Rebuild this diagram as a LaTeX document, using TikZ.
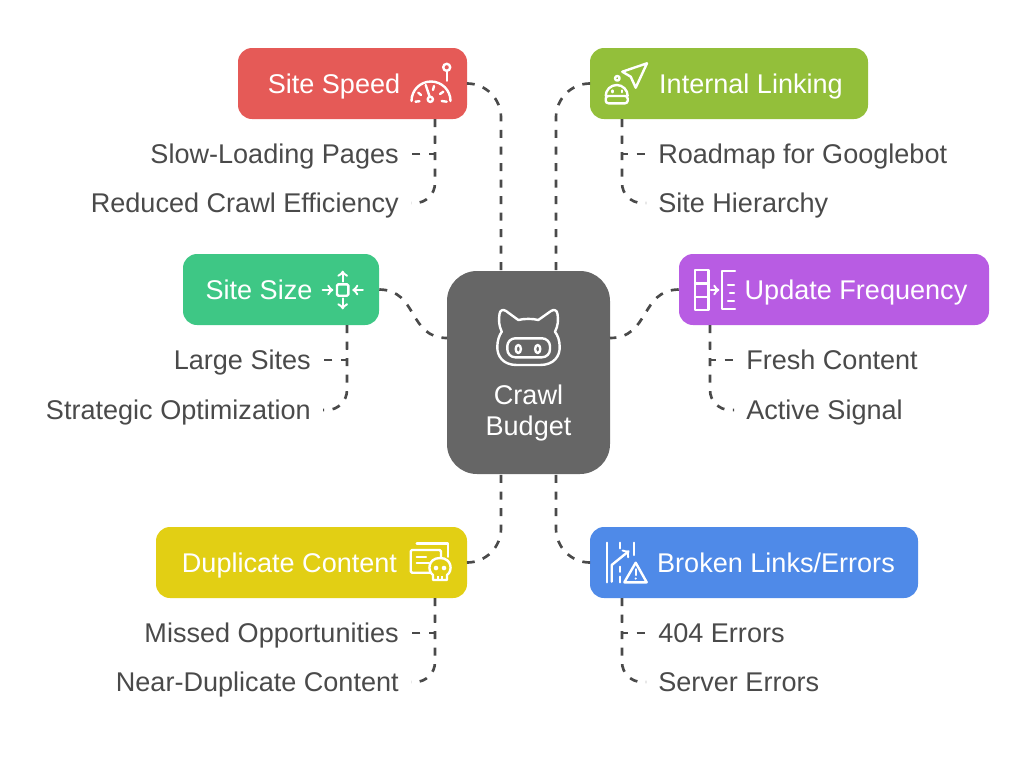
\documentclass[tikz,border=0pt]{standalone}
\usepackage{fontspec}
\setmainfont{Liberation Sans}
\usetikzlibrary{arrows,positioning}
\definecolor{inkgrey}{HTML}{4A4A4A}
\definecolor{speedred}{HTML}{E55A57}
\definecolor{linkgreen}{HTML}{93BF3A}
\definecolor{sizeteal}{HTML}{3EC785}
\definecolor{freqpurple}{HTML}{B85CE3}
\definecolor{dupyellow}{HTML}{E2CF14}
\definecolor{brokenblue}{HTML}{4F8AE8}
\definecolor{hubgrey}{HTML}{666666}
\tikzset{
	topicbox/.style={
		rounded corners=10.5pt,minimum height=53.25pt,text=white,inner sep=0pt,
		font=\fontsize{20.3}{23.25}\selectfont,text height=18.25pt,text depth=4pt},
	sublabel/.style={
		text=inkgrey,inner ysep=0pt,inner xsep=9pt,
		font=\fontsize{20.3}{23.25}\selectfont,text height=18pt,text depth=4.5pt},
	link/.style={draw=inkgrey,line width=2pt,dash pattern=on 6pt off 6.4pt},
	hubbend/.style={rounded corners=25.5pt},
	subbend/.style={rounded corners=15pt},
	icon/.style={draw=white,line width=1.8pt,line cap=round,line join=round}
}
\newcommand{\padicon}[1]{\hspace*{#1pt}}
\begin{document}
\begin{tikzpicture}[x=0.75pt,y=-0.75pt,>=to]
	\useasboundingbox (0,0) rectangle (1024,765);
	% hub
	\node[fill=hubgrey,rounded corners=22.5pt,minimum width=122.25pt,minimum height=152.25pt,
		text=white,align=center,inner sep=0pt,font=\fontsize{20.3}{23.25}\selectfont] (hub) at (528.5,372.5)
		{\rule{0pt}{76pt}Crawl\\Budget};
	% topics
	\node[topicbox,fill=speedred,minimum width=171.75pt] (speed) at (352.5,83.5) {Site Speed\padicon{27.75}};
	\node[topicbox,fill=linkgreen,minimum width=208.5pt] (linking) at (729,83.5) {\padicon{33}Internal Linking};
	\node[topicbox,fill=sizeteal,minimum width=147pt] (size) at (281,289.5) {Site Size\padicon{33}};
	\node[topicbox,fill=freqpurple,minimum width=232.5pt] (freq) at (834,289.5) {\padicon{33}Update Frequency};
	\node[topicbox,fill=dupyellow,minimum width=233.25pt] (dup) at (311.5,562.5) {Duplicate Content\padicon{33}};
	\node[topicbox,fill=brokenblue,minimum width=246pt] (broken) at (754,562.5) {\padicon{33}Broken Links/Errors};
	% sub labels
	\node[sublabel,anchor=east] (slow) at (411,154) {Slow-Loading Pages};
	\node[sublabel,anchor=east] (reduced) at (411,203) {Reduced Crawl Efficiency};
	\node[sublabel,anchor=west] (roadmap) at (646,154) {Roadmap for Googlebot};
	\node[sublabel,anchor=west] (hierarchy) at (646,203) {Site Hierarchy};
	\node[sublabel,anchor=east] (large) at (323,360) {Large Sites};
	\node[sublabel,anchor=east] (strategic) at (323,410) {Strategic Optimization};
	\node[sublabel,anchor=west] (fresh) at (734,360) {Fresh Content};
	\node[sublabel,anchor=west] (active) at (734,410) {Active Signal};
	\node[sublabel,anchor=east] (missed) at (411,633) {Missed Opportunities};
	\node[sublabel,anchor=east] (near) at (411,682) {Near-Duplicate Content};
	\node[sublabel,anchor=west] (errfour) at (646,633) {404 Errors};
	\node[sublabel,anchor=west] (errserver) at (646,682) {Server Errors};
	% ends on the hub and spines
	\coordinate (hubtl) at (501,271);
	\coordinate (hubtr) at (556,271);
	\coordinate (hubbl) at (501,474);
	\coordinate (hubbr) at (556,474);
	\coordinate (hubw) at (447,338);
	\coordinate (hube) at (610,338);
	\coordinate (speedroot) at (435,119);
	\coordinate (linkroot) at (622,119);
	\coordinate (sizeroot) at (347,325);
	\coordinate (freqroot) at (710,325);
	\coordinate (duproot) at (435,598);
	\coordinate (brokenroot) at (622,598);
	% hub links
	\draw[link,hubbend] (speed.east) -| (hubtl);
	\draw[link,hubbend] (linking.west) -| (hubtr);
	\draw[link,hubbend] (dup.east) -| (hubbl);
	\draw[link,hubbend] (broken.west) -| (hubbr);
	\draw[link] (size.east) .. controls (418,290) and (408,338) .. (hubw);
	\draw[link] (freq.west) .. controls (640,290) and (650,338) .. (hube);
	% sub links
	\foreach \spine/\first/\second in {speedroot/slow/reduced,linkroot/roadmap/hierarchy,sizeroot/large/strategic,
		freqroot/fresh/active,duproot/missed/near,brokenroot/errfour/errserver}{
		\draw[link] (\spine) |- (\first);
		\draw[link,subbend] (\spine) |- (\second);
	}
	% hub icon
	\draw[icon] (516.7,365) .. controls (503,365) and (497,356) .. (497.3,346.7)
		.. controls (497.5,340) and (499,336) .. (501.7,331.7) .. controls (499,326) and (498.5,320) .. (499.5,314)
		.. controls (500,310) and (503,309) .. (506,311) -- (518.3,320) .. controls (524,318.5) and (533,318.5) .. (538.3,320)
		-- (551,311) .. controls (554,309) and (557,310) .. (557.5,314) .. controls (558.5,320) and (558,326) .. (555,331.7)
		.. controls (558,336) and (559.5,340) .. (559.7,346.7) .. controls (560,356) and (554,365) .. (540,365) -- cycle;
	\draw[icon,rounded corners=6pt] (507.3,338.3) rectangle (550,357.3);
	\draw[icon] (518.3,349) ellipse (2.6 and 4);
	\draw[icon] (537.7,349) ellipse (2.6 and 4);
	% speed icon
	\draw[icon] (411.5,101) arc (180:360:19.5);
	\draw[icon] (425.7,85) -- (429.6,96.5);
	\draw[icon] (430.3,99.3) circle (2.6);
	\draw[icon] (446.7,71) -- (446.7,80.7);
	\draw[icon] (446.7,67.3) circle (3.5);
	\draw[icon] (415.5,101.7) -- (419.5,101.2);
	\draw[icon] (418.3,92.7) -- (421,95);
	\draw[icon] (434,86) -- (433,90);
	\draw[icon] (440,94) -- (443.3,91.7);
	\draw[icon] (441.7,101) -- (446.7,101.7);
	% linking icon
	\draw[icon] (647,63.3) -- (622.3,71.7) -- (630.7,76.7) -- (635.7,87.7) -- cycle;
	\draw[icon] (605.7,96) arc (180:360:11 and 11);
	\draw[icon,rounded corners=2pt] (605.7,96) rectangle (627.7,103.3);
	\draw[icon] (617.3,78.3) circle (2.3);
	\draw[icon] (612.3,90.5) -- (612.3,92.2);
	\draw[icon] (621.7,90.5) -- (621.7,92.2);
	% size icon
	\draw[icon,rounded corners=1pt] (337,284.3) rectangle (348.4,295.7);
	\draw[icon,->] (342.7,281.5) -- (342.7,270.7);
	\draw[icon,->] (342.7,298.5) -- (342.7,309.3);
	\draw[icon,->] (322.7,290) -- (333.3,290);
	\draw[icon,->] (362.7,290) -- (352.3,290);
	% freq icon
	\draw[icon] (695,270) rectangle (708.3,310);
	\draw[icon] (695,283.3) -- (708.3,283.3);
	\draw[icon] (695,296.7) -- (708.3,296.7);
	\draw[icon,->] (711,290) -- (719.3,290);
	\draw[icon] (735,270.7) -- (722,270.7) -- (722,309) -- (735,309);
	\draw[icon] (728,285) -- (734,285);
	\draw[icon] (730,293) -- (734,293);
	\draw[icon] (728,300.7) -- (734,300.7);
	% dup icon
	\draw[icon] (416.7,543.5) -- (447.7,543.5) -- (447.7,556.7);
	\draw[icon,rounded corners=1pt] (410.7,550) rectangle (441,572.7);
	\draw[icon] (416.7,556.7) -- (426,556.7);
	\draw[icon] (416.7,562.7) -- (429,562.7);
	\draw[icon,fill=dupyellow] (433,575) .. controls (427,571) and (428,558) .. (440,558)
		.. controls (452,558) and (453,571) .. (447,575) -- (447,580) -- (433,580) -- cycle;
	\fill[white] (436,568) circle (2.3);
	\fill[white] (444,568) circle (2.3);
	\draw[white,line width=1pt] (438,576) -- (438,580) (442,576) -- (442,580);
	% broken icon
	\draw[icon] (606.7,542.7) -- (606.7,582.3);
	\draw[icon] (620,542.7) -- (620,548.3);
	\draw[icon,->] (611.7,581.7) -- (611.7,565) -- (629.3,550.7);
	\draw[icon] (634,542.7) -- (634,555);
	\draw[icon] (620,566.7) -- (620,571.7);
	\draw[icon] (620,576.7) -- (620,582.3);
	\draw[icon,fill=brokenblue] (635.7,562.7) -- (624.3,582.3) -- (646.7,582.3) -- cycle;
	\draw[icon] (635.7,569.3) -- (635.7,575);
	\fill[white] (635.7,578.5) circle (1.2);
\end{tikzpicture}
\end{document}
